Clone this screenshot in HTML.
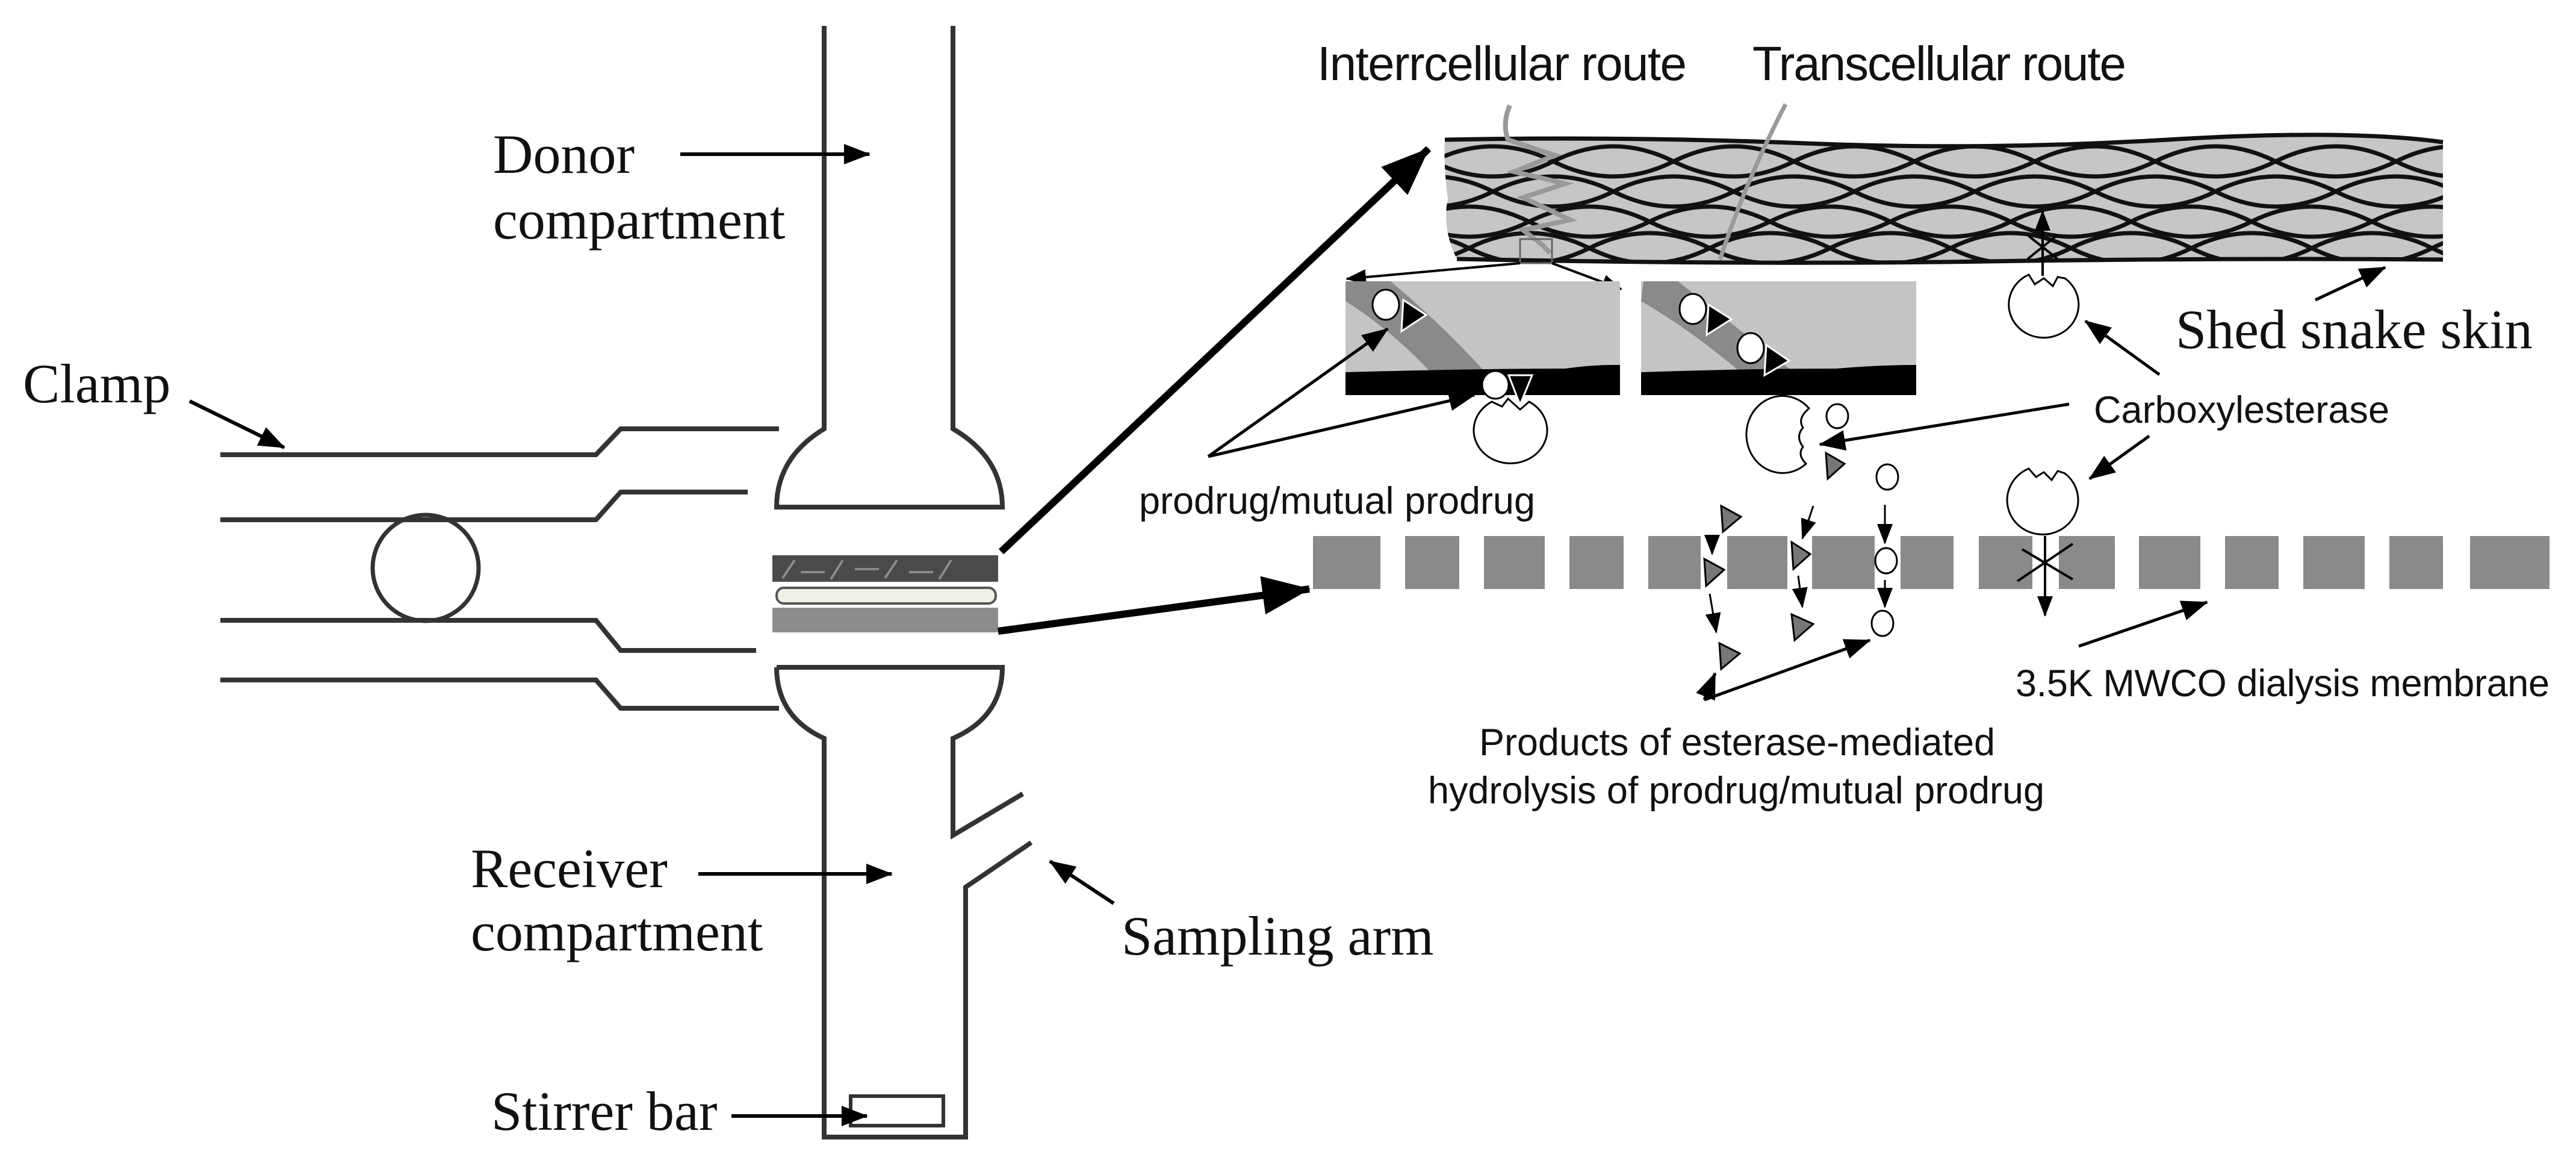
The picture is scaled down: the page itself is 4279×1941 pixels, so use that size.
<!DOCTYPE html>
<html><head><meta charset="utf-8"><style>
html,body{margin:0;padding:0;background:#fff}
svg{display:block}
.t{font-family:"Liberation Serif",serif;font-size:92px;fill:#111}
.s{font-family:"Liberation Sans",sans-serif;font-size:63px;fill:#111}
</style></head><body>
<svg width="4279" height="1941" viewBox="0 0 4279 1941" xmlns="http://www.w3.org/2000/svg">
<defs>
<marker id="a" markerUnits="userSpaceOnUse" markerWidth="44" markerHeight="34" refX="42" refY="17" orient="auto"><path d="M0,0 L44,17 L0,34 z" fill="#000"/></marker>
<marker id="b" markerUnits="userSpaceOnUse" markerWidth="80" markerHeight="64" refX="78" refY="32" orient="auto"><path d="M0,0 L80,32 L0,64 z" fill="#000"/></marker>
<marker id="c" markerUnits="userSpaceOnUse" markerWidth="34" markerHeight="26" refX="32" refY="13" orient="auto"><path d="M0,0 L34,13 L0,26 z" fill="#000"/></marker>
<clipPath id="skin"><path d="M2400,232 Q2700,226 3000,238 T3600,232 T4058,236 L4058,431 Q3700,428 3300,434 T2420,430 Q2395,380 2405,330 Q2398,280 2400,232 z"/></clipPath>
</defs>

<!-- ===== Left apparatus ===== -->
<g fill="none" stroke="#333" stroke-width="8">
<path d="M1369,43 V712 Q1290,760 1290,842 H1665 Q1665,760 1583,712 V43"/>
<path d="M1290,1108 H1665 Q1665,1190 1583,1226 V1387 L1699,1318"/>
<path d="M1290,1108 Q1290,1190 1369,1226 V1888 H1604 V1473 L1713,1399"/>
<path d="M366,755 H990 L1031,712 H1294"/>
<path d="M366,863 H990 L1031,817 H1242"/>
<path d="M366,1030 H990 L1031,1080 H1256"/>
<path d="M366,1129 H990 L1031,1176 H1294"/>
<circle cx="707" cy="943" r="88" stroke-width="7"/>
<rect x="1413" y="1820" width="154" height="49" stroke-width="6"/>
</g>
<rect x="1283" y="922" width="375" height="44" fill="#4a4a4a"/>
<path d="M1300,960 l20,-30 M1380,962 l20,-32 M1470,960 l20,-30 M1560,962 l20,-32 M1330,950 h40 M1420,945 h40 M1510,950 h40" stroke="#8a8a8a" stroke-width="4" fill="none"/>
<rect x="1290" y="976" width="364" height="26" rx="12" fill="#efefe6" stroke="#555" stroke-width="4"/>
<rect x="1283" y="1009" width="375" height="41" fill="#8d8d8d"/>

<text class="t" x="819" y="287">Donor</text>
<text class="t" x="819" y="396">compartment</text>
<text class="t" x="38" y="668">Clamp</text>
<text class="t" x="782" y="1473">Receiver</text>
<text class="t" x="782" y="1578">compartment</text>
<text class="t" x="1863" y="1585">Sampling arm</text>
<text class="t" x="816" y="1876">Stirrer bar</text>
<g stroke="#000" stroke-width="6" fill="none">
<line x1="1130" y1="256" x2="1444" y2="256" marker-end="url(#a)"/>
<line x1="315" y1="666" x2="472" y2="743" marker-end="url(#a)"/>
<line x1="1160" y1="1451" x2="1481" y2="1451" marker-end="url(#a)"/>
<line x1="1850" y1="1500" x2="1744" y2="1430" marker-end="url(#a)"/>
<line x1="1215" y1="1853" x2="1440" y2="1853" marker-end="url(#a)"/>
</g>
<g stroke="#000" stroke-width="12" fill="none">
<line x1="1663" y1="916" x2="2373" y2="247" marker-end="url(#b)"/>
<line x1="1658" y1="1048" x2="2175" y2="978" marker-end="url(#b)"/>
</g>

<!-- ===== Right: skin ===== -->
<text class="s" x="2188" y="133" style="font-size:80px" textLength="614">Interrcellular route</text>
<text class="s" x="2911" y="133" style="font-size:80px" textLength="621">Transcellular route</text>
<g clip-path="url(#skin)">
<rect x="2380" y="220" width="1700" height="220" fill="#c6c6c6"/>
<g fill="none" stroke="#111" stroke-width="7">
<path d="M2380,268 Q2480,218 2580,268 T2780,268 T2980,268 T3180,268 T3380,268 T3580,268 T3780,268 T3980,268 T4180,268"/>
<path d="M2380,268 Q2480,318 2580,268 T2780,268 T2980,268 T3180,268 T3380,268 T3580,268 T3780,268 T3980,268 T4180,268"/>
<path d="M2280,318 Q2380,268 2480,318 T2680,318 T2880,318 T3080,318 T3280,318 T3480,318 T3680,318 T3880,318 T4080,318 T4280,318"/>
<path d="M2280,318 Q2380,368 2480,318 T2680,318 T2880,318 T3080,318 T3280,318 T3480,318 T3680,318 T3880,318 T4080,318 T4280,318"/>
<path d="M2340,368 Q2440,318 2540,368 T2740,368 T2940,368 T3140,368 T3340,368 T3540,368 T3740,368 T3940,368 T4140,368"/>
<path d="M2340,368 Q2440,418 2540,368 T2740,368 T2940,368 T3140,368 T3340,368 T3540,368 T3740,368 T3940,368 T4140,368"/>
<path d="M2240,412 Q2340,362 2440,412 T2640,412 T2840,412 T3040,412 T3240,412 T3440,412 T3640,412 T3840,412 T4040,412 T4240,412"/>
<path d="M2240,412 Q2340,462 2440,412 T2640,412 T2840,412 T3040,412 T3240,412 T3440,412 T3640,412 T3840,412 T4040,412 T4240,412"/>
</g>
</g>
<path d="M2400,232 Q2700,226 3000,238 T3600,232 T4058,236 M4058,431 Q3700,428 3300,434 T2420,430" fill="none" stroke="#111" stroke-width="7"/>
<path d="M2508,175 Q2495,205 2505,232 L2583,258 L2515,285 L2600,305 L2530,328 L2608,365 L2530,382 L2560,405 L2575,420" fill="none" stroke="#999" stroke-width="8"/>
<path d="M2966,173 Q2900,300 2857,431" fill="none" stroke="#999" stroke-width="7"/>
<rect x="2525" y="397" width="53" height="40" fill="none" stroke="#666" stroke-width="3"/>
<g stroke="#000" stroke-width="4" fill="none">
<line x1="2525" y1="437" x2="2237" y2="463" marker-end="url(#c)"/>
<line x1="2578" y1="437" x2="2693" y2="480" marker-end="url(#c)"/>
</g>

<rect x="2235" y="467" width="456" height="189" fill="#c4c4c4"/>
<path d="M2235,467 H2310 Q2420,560 2500,656 H2410 Q2330,560 2235,500 z" fill="#8a8a8a"/>
<path d="M2235,618 Q2450,612 2600,612 Q2650,605 2691,606 V656 H2235 z" fill="#000"/>
<rect x="2726" y="467" width="457" height="189" fill="#c4c4c4"/>
<path d="M2730,467 H2787 Q2930,580 3029,656 H2934 Q2830,560 2726,500 z" fill="#8a8a8a"/>
<path d="M2726,618 Q2900,612 3050,612 Q3120,606 3183,606 V656 H2726 z" fill="#000"/>
<g stroke="#000" stroke-width="3">
<ellipse cx="2302" cy="506" rx="22" ry="25" fill="#fff"/>
<path d="M2331,498 L2369,523 L2328,550 z" fill="#000" stroke="#fff"/>
<ellipse cx="2812" cy="513" rx="22" ry="25" fill="#fff"/>
<path d="M2838,506 L2876,530 L2835,556 z" fill="#000" stroke="#fff"/>
<ellipse cx="2908" cy="578" rx="22" ry="25" fill="#fff"/>
<path d="M2934,573 L2972,599 L2931,623 z" fill="#000" stroke="#fff"/>
<path d="M2478,667 A61,55 0 1 0 2540,667 L2525,680 L2505,662 L2495,675 z" fill="#fff"/>
<ellipse cx="2484" cy="639" rx="22" ry="23" fill="#fff"/>
<path d="M2506,623 L2545,623 L2525,672 z" fill="#000" stroke="#fff"/>
<path d="M3005,678 A60,64 0 1 0 3000,770 Q2985,755 2995,742 Q2982,725 2995,710 Q2985,695 3005,678 z" fill="#fff"/>
<ellipse cx="3052" cy="691" rx="18" ry="20" fill="#fff"/>
<path d="M3033,752 L3064,770 L3036,795 z" fill="#777"/>
<ellipse cx="3135" cy="792" rx="18" ry="21" fill="#fff"/>
<path d="M3370,456 A58,55 0 1 0 3430,462 L3418,460 L3410,475 L3395,462 L3380,472 z" fill="#fff"/>
<path d="M3370,778 A59,57 0 1 0 3430,786 L3418,782 L3408,797 L3395,784 L3382,792 z" fill="#fff"/>
</g>
<g stroke="#000" stroke-width="4" fill="none">
<line x1="3393" y1="458" x2="3393" y2="351" marker-end="url(#c)"/>
<line x1="3370" y1="392" x2="3418" y2="430"/><line x1="3368" y1="430" x2="3418" y2="390"/>
</g>

<g fill="#8a8a8a">
<rect x="2181" y="890" width="112" height="88"/><rect x="2334" y="890" width="90" height="88"/>
<rect x="2465" y="890" width="101" height="88"/><rect x="2607" y="890" width="90" height="88"/>
<rect x="2738" y="890" width="87" height="88"/><rect x="2869" y="890" width="100" height="88"/>
<rect x="3010" y="890" width="104" height="88"/><rect x="3157" y="890" width="88" height="88"/>
<rect x="3287" y="890" width="89" height="88"/><rect x="3420" y="890" width="93" height="88"/>
<rect x="3553" y="890" width="102" height="88"/><rect x="3696" y="890" width="89" height="88"/>
<rect x="3826" y="890" width="102" height="88"/><rect x="3969" y="890" width="89" height="88"/>
<rect x="4103" y="890" width="132" height="88"/>
</g>
<g stroke="#000" stroke-width="4" fill="none">
<line x1="3359" y1="912" x2="3443" y2="962"/><line x1="3351" y1="965" x2="3443" y2="903"/>
<line x1="3397" y1="890" x2="3397" y2="1022" marker-end="url(#c)"/>
</g>
<g stroke="#000" stroke-width="3">
<path d="M2859,840 L2892,858 L2862,883 z" fill="#777"/>
<path d="M2831,928 L2864,946 L2834,973 z" fill="#777"/>
<path d="M2856,1068 L2890,1085 L2859,1111 z" fill="#777"/>
<path d="M2976,900 L3007,920 L2979,945 z" fill="#777"/>
<path d="M2976,1020 L3012,1036 L2981,1063 z" fill="#777"/>
<ellipse cx="3133" cy="931" rx="18" ry="21" fill="#fff"/>
<ellipse cx="3127" cy="1035" rx="18" ry="21" fill="#fff"/>
</g>
<g stroke="#000" stroke-width="3" fill="none">
<line x1="2844" y1="893" x2="2844" y2="920" marker-end="url(#c)"/>
<line x1="2840" y1="986" x2="2851" y2="1050" marker-end="url(#c)"/>
<line x1="3012" y1="840" x2="2994" y2="894" marker-end="url(#c)"/>
<line x1="2987" y1="956" x2="2994" y2="1008" marker-end="url(#c)"/>
<line x1="3131" y1="838" x2="3131" y2="902" marker-end="url(#c)"/>
<line x1="3131" y1="963" x2="3131" y2="1008" marker-end="url(#c)"/>
</g>

<text class="t" x="3614" y="578">Shed snake skin</text>
<text class="s" x="3478" y="702" textLength="491">Carboxylesterase</text>
<text class="s" x="1892" y="853" textLength="658">prodrug/mutual prodrug</text>
<text class="s" x="3348" y="1156" textLength="887">3.5K MWCO dialysis membrane</text>
<text class="s" x="2457" y="1254" textLength="857">Products of esterase-mediated</text>
<text class="s" x="2372" y="1334" textLength="1024">hydrolysis of prodrug/mutual prodrug</text>
<g stroke="#000" stroke-width="5" fill="none">
<line x1="3846" y1="498" x2="3962" y2="444" marker-end="url(#a)"/>
<line x1="3587" y1="622" x2="3464" y2="533" marker-end="url(#a)"/>
<line x1="3437" y1="671" x2="3023" y2="738" marker-end="url(#a)"/>
<line x1="3570" y1="724" x2="3471" y2="795" marker-end="url(#a)"/>
<line x1="2007" y1="758" x2="2305" y2="546" marker-end="url(#a)"/>
<line x1="2007" y1="758" x2="2449" y2="656" marker-end="url(#a)"/>
<line x1="2831" y1="1162" x2="2849" y2="1118" marker-end="url(#a)"/>
<line x1="2831" y1="1162" x2="3106" y2="1063" marker-end="url(#a)"/>
<line x1="3453" y1="1073" x2="3666" y2="1000" marker-end="url(#a)"/>
</g>
</svg>
</body></html>
